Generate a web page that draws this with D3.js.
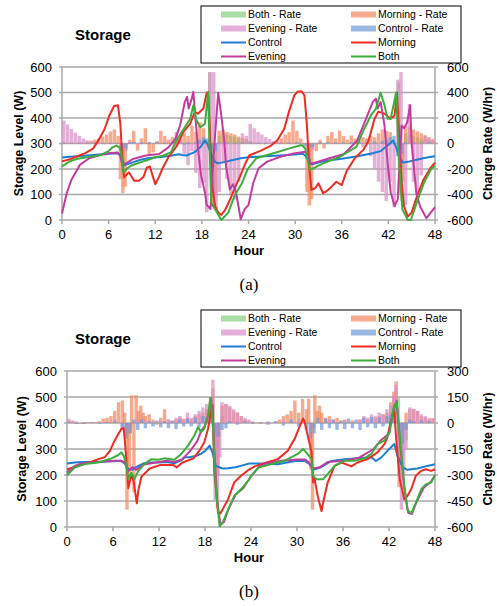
<!DOCTYPE html>
<html>
<head>
<meta charset="utf-8">
<script src="https://cdn.jsdelivr.net/npm/d3@7"></script>
<style>
  body { margin: 0; background: #fff; }
  svg { display: block; font-family: "Liberation Sans", Arial, sans-serif; }
</style>
</head>
<body>
<svg id="chart" width="497" height="606"></svg>
<script>
// ---- data: panel (a) ----
const hourTicks = [0, 6, 12, 18, 24, 30, 36, 42, 48];
const levelTicks = [0, 100, 200, 300, 400, 500, 600];
const rateTicksA = [-600, -400, -200, 0, 200, 400, 600];
const rateTicksB = [-600, -450, -300, -150, 0, 150, 300];

const controlA = [[0,245],[1,248],[2,250],[4,255],[6,260],[7,262],[7.5,258],[7.8,235],[8,215],[9,225],[10,235],[11,242],[12,245],[13,248],[14,252],[15,258],[15.5,255],[16,253],[17,265],[17.8,285],[18.4,312],[18.7,300],[19.2,255],[19.7,228],[20.1,222],[21,228],[22,235],[23,242],[24,246],[26,250],[28,253],[30,257],[31,260],[31.4,250],[31.8,225],[32.2,218],[33,225],[34,232],[36,240],[38,250],[40,262],[41,270],[41.6,285],[42.2,300],[42.6,312],[43,285],[43.4,245],[43.9,225],[44.5,228],[45.5,235],[46.5,242],[47.5,248],[48,250]];
const morningA = [[0,230],[1,238],[2,250],[3,262],[4,280],[4.8,318],[5.5,358],[6.1,410],[6.7,447],[7.2,450],[7.5,380],[7.8,220],[8,167],[8.6,187],[9.3,154],[9.9,154],[10.5,170],[10.9,205],[11.3,210],[11.7,170],[12,140],[12.5,170],[12.9,200],[13.7,246],[14.8,292],[15.6,345],[16.5,378],[17.1,424],[17.5,417],[18.2,437],[18.6,496],[18.8,502],[19.1,300],[19.4,120],[19.7,55],[20.1,29],[20.5,20],[21,40],[21.6,78],[22.3,130],[22.9,170],[23.5,215],[24.1,253],[25.6,272],[26.9,292],[27.7,312],[28.6,358],[29.2,424],[29.9,489],[30.3,503],[30.8,505],[31.2,489],[31.5,380],[31.8,213],[32.1,118],[32.6,125],[33,144],[33.6,105],[34,112],[34.5,125],[35.3,150],[36,137],[36.6,190],[37.7,243],[38.8,276],[39.4,307],[39.8,350],[40.2,395],[40.7,425],[41.5,417],[42.3,397],[42.8,410],[43.1,500],[43.4,330],[43.7,150],[44,55],[44.5,13],[45,30],[45.6,86],[46.5,157],[47.4,203],[48,225]];
const eveningA = [[0,25],[0.6,105],[1.2,157],[2.3,216],[3.5,242],[4.9,255],[6.2,263],[7.2,265],[7.5,250],[7.8,213],[9.1,239],[10.8,253],[12.5,259],[13.7,285],[14.6,318],[15.2,371],[15.8,463],[16.1,483],[16.3,437],[16.7,476],[16.9,503],[17.5,279],[17.9,174],[18.4,108],[18.6,60],[19.1,43],[19.5,250],[20.1,499],[20.5,410],[20.9,305],[21.1,213],[21.6,120],[22,140],[22.4,108],[23,3],[23.5,42],[24,59],[24.6,144],[25.3,203],[26.4,229],[28.1,248],[29.8,261],[31.3,268],[31.8,242],[32,220],[34.2,240],[36.3,259],[38,312],[39.3,410],[40,463],[40.4,476],[40.6,437],[41,463],[41.5,371],[41.9,226],[42.3,108],[42.8,55],[43.2,80],[43.7,370],[44,360],[44.4,380],[44.8,450],[45,300],[45.3,200],[45.6,105],[46.1,52],[46.9,7],[47.7,39],[48,50]];
const bothA = [[0,210],[1,230],[2,240],[3,245],[5,255],[6,270],[6.5,285],[7,292],[7.4,285],[7.6,266],[7.9,187],[8.5,205],[9,215],[10,225],[11,235],[12,246],[13,252],[14,265],[14.6,305],[15.4,345],[16.5,397],[16.9,450],[17.3,391],[17.8,364],[18.4,378],[18.8,500],[19,279],[19.2,68],[19.7,42],[20.5,0],[21.4,29],[22.2,95],[23.1,141],[23.9,200],[25,242],[27.2,262],[29.3,281],[30.8,294],[31.3,281],[31.9,196],[33.6,222],[35.8,248],[37.9,288],[38.9,358],[39.75,410],[40.4,437],[41,500],[41.5,450],[41.9,397],[42.3,397],[43,500],[43.4,213],[43.8,42],[44.5,0],[44.9,0],[45.8,82],[46.6,147],[47.5,200],[48,213]];

const bothRateA = [[7.6,-80],[18.8,560],[19.2,-500],[20,60],[20.5,80],[21,70],[21.5,60],[22,50],[22.5,40],[23,30],[23.5,20],[43.1,480],[43.5,-450],[44,80],[44.5,70],[45,60],[45.5,50],[46,40],[46.5,30],[47,20],[47.5,15]];
const morningRateA = [[0,5],[0.5,4],[1,5],[1.5,4],[2,5],[2.5,8],[3,15],[3.5,22],[4,30],[4.5,40],[5,55],[5.5,70],[6,95],[6.5,110],[7,60],[7.3,-280],[7.6,-390],[7.9,-340],[8.5,30],[9,100],[9.5,-55],[10,40],[10.5,120],[11,-90],[11.5,-70],[12,20],[12.5,100],[13,60],[13.5,30],[14,50],[14.5,90],[15,40],[15.5,85],[16,60],[16.5,140],[17,90],[17.5,168],[18,120],[19.2,-495],[19.5,-400],[20,100],[20.5,110],[21,90],[21.5,80],[22,70],[22.5,55],[23,45],[23.5,35],[24,20],[24.5,10],[25,5],[26,5],[27,10],[27.5,20],[28,40],[28.5,70],[29,90],[29.5,180],[30,100],[30.5,40],[31.3,-380],[31.6,-487],[31.9,-435],[32.5,-60],[33,30],[33.5,-40],[34,60],[34.5,89],[35,40],[35.5,102],[36,60],[36.5,30],[37,63],[37.5,40],[38,30],[38.5,50],[39,40],[39.5,60],[40,50],[40.5,80],[41,110],[41.5,100],[42,90],[43.2,-400],[43.6,-300],[44,140],[44.5,130],[45,110],[45.5,95],[46,80],[46.5,65],[47,50],[47.5,37]];
const eveningRateA = [[0,180],[0.5,150],[1,115],[1.5,85],[2,60],[2.5,40],[3,25],[3.5,15],[4,10],[4.5,8],[5,6],[5.5,5],[6,5],[6.5,5],[7.5,-110],[8,-60],[8.5,10],[9,8],[10,6],[11,8],[12,5],[13,8],[14,10],[14.5,-20],[15,25],[15.5,-80],[16,-170],[16.5,-60],[17,-230],[17.5,-350],[18,-312],[18.4,-540],[18.8,560],[19.3,560],[19.6,-508],[20,-380],[20.5,-150],[21,-280],[21.5,-400],[22,-440],[22.5,-300],[23,80],[23.5,60],[24,155],[24.5,120],[25,90],[25.5,70],[26,50],[26.5,35],[27,20],[27.5,12],[28,8],[29,5],[31.5,-110],[32,-50],[33,6],[35,8],[37,10],[38,15],[38.5,-30],[39,30],[39.5,-100],[40,-200],[40.5,-300],[41,-380],[41.5,-450],[42,-300],[42.5,-500],[43,500],[43.4,560],[44,-480],[44.5,310],[45,-300],[45.5,-400],[46,-250],[46.5,60],[47,40],[47.5,25]];
const controlRateA = [[0,8],[1,5],[2,6],[3,5],[4,8],[5,6],[6,6],[7,5],[7.5,-150],[8,-40],[8.5,10],[9,12],[10,10],[11,12],[12,10],[13,8],[14,10],[15,12],[15.5,-10],[16,10],[17,15],[17.5,30],[18,50],[18.5,40],[19,-100],[19.5,-60],[20,8],[21,10],[22,10],[23,10],[24,8],[25,6],[26,6],[27,8],[28,6],[29,8],[30,10],[31,-20],[31.5,-120],[32,-30],[33,10],[34,12],[35,10],[36,10],[37,10],[38,12],[39,10],[40,15],[41,20],[41.5,30],[42,50],[42.5,60],[43,-100],[43.5,-80],[44,10],[45,10],[46,12],[47,10]];

// ---- data: panel (b) ----
const controlB = [[0,244],[1,248],[2,250],[4,250],[6,253],[7,255],[7.5,245],[8,222],[8.5,220],[9,230],[10,245],[11,248],[12,248],[13,250],[14,245],[15,258],[15.3,268],[16,268],[17,275],[17.5,282],[18,292],[18.6,313],[19,285],[19.4,235],[20.3,225],[21,226],[22,230],[23,238],[23.8,244],[25,244],[27.5,241],[29.7,254],[31,254],[31.7,241],[32.1,220],[33.2,231],[34.5,254],[36.2,261],[37.9,264],[39.7,268],[40.3,254],[41,268],[41.8,293],[42.7,319],[43.1,274],[43.8,229],[44.4,220],[45.7,225],[47,235],[48,241]];
const morningB = [[0,222],[1.5,235],[3.2,251],[4.1,261],[4.9,268],[5.6,293],[6.2,332],[6.7,358],[7.1,378],[7.4,380],[7.7,274],[8,149],[8.4,200],[8.7,175],[9.1,91],[9.3,140],[9.7,193],[10.8,225],[12.1,238],[13.9,238],[14.3,229],[15,247],[16.5,264],[17.3,295],[17.9,325],[18.4,378],[18.8,449],[19,468],[19.2,222],[19.7,54],[20,52],[21,106],[21.8,171],[22.7,197],[23.8,222],[24.5,233],[25.8,246],[27.5,261],[28.8,293],[29.7,339],[30.4,391],[30.8,417],[31,404],[31.4,352],[31.9,287],[32.1,171],[32.3,184],[32.7,119],[33.2,61],[33.4,93],[34,171],[34.9,235],[35.8,248],[37.1,233],[37.9,248],[39.2,261],[40.5,287],[41.4,319],[41.8,345],[42.2,404],[42.5,430],[42.7,443],[42.9,352],[43.4,184],[44,106],[44.4,119],[44.9,145],[45.5,197],[46.2,216],[46.8,222],[47.5,216],[48,222]];
const eveningB = [[0,210],[1,235],[2,245],[4,250],[6,255],[7,255],[7.5,250],[8,215],[8.5,230],[9,220],[10,240],[12,250],[13,255],[14,250],[15,260],[16,290],[17,330],[17.5,370],[18,390],[18.5,440],[18.8,495],[19.2,300],[19.6,100],[20,10],[20.5,20],[21,65],[22,125],[23,150],[24,195],[25,230],[26,245],[28,255],[30,260],[31,260],[31.5,250],[32,225],[33,230],[34,250],[36,255],[38,265],[40,300],[41,335],[42,360],[42.5,440],[43,485],[43.5,300],[44,150],[44.5,55],[45,50],[45.5,90],[46.5,150],[47.5,175],[48,200]];
const bothB = [[0,199],[1,229],[2.3,242],[4.1,248],[5.8,264],[6.7,277],[7.1,287],[7.4,274],[7.7,242],[8,184],[8.4,209],[8.8,184],[9.3,216],[10.1,242],[11,261],[11.9,259],[12.7,264],[14,259],[14.9,281],[15.8,313],[16.6,352],[17.1,384],[17.5,365],[17.9,378],[18.4,429],[18.7,497],[19,417],[19.4,158],[19.9,3],[20.3,16],[21,67],[21.8,119],[22.7,145],[23.8,184],[24,197],[25,229],[26.7,242],[28.4,255],[30.1,281],[30.8,300],[31.2,287],[31.9,261],[32.1,197],[32.5,184],[33.4,184],[34,203],[34.9,235],[36.2,255],[37.5,255],[38.8,264],[39.7,281],[40.5,319],[41.4,332],[42.1,365],[42.5,443],[42.7,468],[43,481],[43.4,352],[44,158],[44.4,67],[44.9,52],[45.5,93],[46.2,145],[46.8,164],[47.5,171],[48,197]];

const bothRateB = [[7.6,-40],[8,-60],[18.7,130],[19.2,-150],[19.5,-300],[20,40],[43,150],[43.5,-250],[44,-100]];
const morningRateB = [[0,15],[0.5,10],[1,-5],[1.5,-5],[2,-5],[2.5,5],[3,5],[3.5,5],[4,10],[4.5,25],[5,30],[5.5,40],[6,70],[6.5,120],[7,130],[7.3,60],[7.6,-500],[7.9,-300],[8.2,160],[8.5,-400],[8.8,160],[9.1,70],[9.4,100],[9.7,60],[10,40],[10.5,50],[11,20],[11.5,-10],[12,30],[12.5,80],[13,20],[13.5,10],[14,20],[14.5,30],[15,25],[15.5,30],[16,20],[16.5,40],[17,50],[17.5,60],[18,80],[18.5,120],[18.8,200],[19.1,-330],[19.4,-250],[20,100],[20.5,110],[21,90],[21.5,70],[22,60],[22.5,40],[23,20],[23.5,10],[24,5],[25,-5],[26,5],[27,10],[27.5,20],[28,40],[28.5,50],[29,70],[29.5,130],[30,60],[30.5,140],[31,80],[31.3,140],[31.6,-270],[31.8,-500],[32.1,160],[32.4,70],[32.7,100],[33,60],[33.5,30],[34,40],[34.5,20],[35,30],[35.5,10],[36,20],[37,15],[38,20],[39,20],[40,30],[40.5,40],[41,50],[41.5,60],[42,120],[42.4,180],[42.7,240],[43.1,-370],[43.4,-250],[44,60],[44.5,80],[45,82],[45.5,70],[46,40],[46.5,30],[47,20],[47.5,25]];
const eveningRateB = [[0,25],[0.5,15],[1,10],[2,5],[3,5],[4,8],[5,10],[6,20],[7,-40],[7.5,-60],[8,-30],[9,20],[10,15],[11,10],[12,15],[13,20],[14,30],[14.5,40],[15,20],[15.5,60],[16,30],[16.5,50],[17,70],[17.5,90],[18,110],[18.5,150],[18.8,250],[19.1,-450],[19.4,-490],[19.7,-200],[20,120],[20.5,110],[21,100],[21.5,80],[22,60],[22.5,40],[23,30],[23.5,20],[24,10],[26,10],[28,15],[30,20],[32,-30],[34,20],[36,15],[38,20],[38.5,40],[39,30],[39.5,50],[40,40],[40.5,60],[41,50],[41.5,80],[42,100],[42.4,150],[42.7,220],[43.1,-300],[43.4,-500],[43.7,-300],[44,-150],[44.5,90],[45,80],[45.5,70],[46,50],[46.5,40],[47,30],[47.5,30]];
const controlRateB = [[0,5],[1,-5],[2,-5],[3,5],[4,-5],[5,5],[6,10],[7,-40],[7.5,-90],[8,-60],[8.5,20],[9,-40],[9.5,20],[10,-30],[10.5,10],[11,-20],[11.5,15],[12,-25],[12.5,10],[13,-30],[13.5,15],[14,-35],[14.5,20],[15,-20],[15.5,25],[16,-20],[16.5,30],[17,-25],[17.5,40],[18,30],[18.5,50],[19,-60],[19.5,-80],[20,-40],[20.5,-30],[21,10],[22,-10],[23,10],[24,-5],[25,5],[26,-10],[27,10],[28,-15],[29,20],[30,-20],[31,-40],[31.5,-90],[32,-60],[32.5,30],[33,-40],[33.5,25],[34,-30],[34.5,20],[35,-40],[35.5,15],[36,-35],[36.5,25],[37,-30],[37.5,20],[38,-40],[38.5,30],[39,-25],[39.5,35],[40,-30],[40.5,30],[41,-20],[41.5,40],[42,50],[42.5,80],[43,-80],[43.5,-120],[44,-40],[44.5,20],[45,10],[46,15],[47,10]];

const seriesNames = ["Both - Rate", "Morning - Rate", "Evening - Rate", "Control - Rate", "Control", "Morning", "Evening", "Both"];
const colors = {
  "Both - Rate": "#86cf82", "Morning - Rate": "#f4875e", "Evening - Rate": "#d88ec6", "Control - Rate": "#6f9ad6",
  "Control": "#1e7fd2", "Morning": "#ef2b22", "Evening": "#c43b9f", "Both": "#3cae3c"
};

const svg = d3.select("#chart");

function drawPanel(p) {
  const x = d3.scaleLinear().domain([0, 48]).range([p.left, p.right]);
  const yL = d3.scaleLinear().domain([0, 600]).range([p.bottom, p.top]);
  const yR = d3.scaleLinear().domain(p.rateDomain).range([p.bottom, p.top]);
  const g = svg.append("g");

  // grid
  g.selectAll(".grid").data(levelTicks).enter().append("line")
    .attr("x1", p.left - 3).attr("x2", p.right + 3)
    .attr("y1", d => yL(d)).attr("y2", d => yL(d))
    .attr("stroke", "#a9a9a9").attr("stroke-width", 1.5);
  g.append("line").attr("x1", p.left).attr("x2", p.left).attr("y1", p.top).attr("y2", p.bottom)
    .attr("stroke", "#a9a9a9").attr("stroke-width", 1.5);
  g.append("line").attr("x1", p.right).attr("x2", p.right).attr("y1", p.top).attr("y2", p.bottom)
    .attr("stroke", "#a9a9a9").attr("stroke-width", 1.5);
  g.selectAll(".xtick").data(hourTicks).enter().append("line")
    .attr("x1", d => x(d)).attr("x2", d => x(d))
    .attr("y1", p.bottom).attr("y2", p.bottom + 4)
    .attr("stroke", "#a9a9a9").attr("stroke-width", 1.5);

  // rate bars
  const bw = x(0.45) - x(0);
  const barSets = [["Both - Rate", p.bothRate], ["Morning - Rate", p.morningRate], ["Evening - Rate", p.eveningRate], ["Control - Rate", p.controlRate]];
  barSets.forEach(([name, data]) => {
    g.append("g").selectAll("rect").data(data).enter().append("rect")
      .attr("x", d => x(d[0]))
      .attr("width", bw)
      .attr("y", d => Math.min(yR(d[1]), yR(0)))
      .attr("height", d => Math.abs(yR(d[1]) - yR(0)))
      .attr("fill", colors[name]).attr("fill-opacity", 0.7);
  });

  // level lines
  const line = d3.line().x(d => x(d[0])).y(d => yL(d[1]));
  [["Control", p.control], ["Morning", p.morning], ["Evening", p.evening], ["Both", p.both]].forEach(([name, data]) => {
    g.append("path").datum(data).attr("d", line)
      .attr("fill", "none").attr("stroke", colors[name]).attr("stroke-width", 2)
      .attr("stroke-linejoin", "round");
  });

  // tick labels
  g.selectAll(".yl").data(levelTicks).enter().append("text")
    .attr("x", p.left - 10).attr("y", d => yL(d)).attr("dy", "0.36em")
    .attr("text-anchor", "end").attr("font-size", 13).text(d => d);
  g.selectAll(".yr").data(p.rateTicks).enter().append("text")
    .attr("x", p.right + 12).attr("y", d => yR(d)).attr("dy", "0.36em")
    .attr("text-anchor", "start").attr("font-size", 13).text(d => d);
  g.selectAll(".xl").data(hourTicks).enter().append("text")
    .attr("x", d => x(d)).attr("y", p.bottom + 19)
    .attr("text-anchor", "middle").attr("font-size", 13).text(d => d);

  // titles
  g.append("text").attr("x", 249).attr("y", p.bottom + 35).attr("text-anchor", "middle")
    .attr("font-size", 13).attr("font-weight", "bold").text("Hour");
  g.append("text").attr("transform", `translate(${p.leftTitleX},${(p.top + p.bottom) / 2}) rotate(-90)`)
    .attr("text-anchor", "middle").attr("font-size", 12.5).attr("font-weight", "bold").text("Storage Level (W)");
  g.append("text").attr("transform", `translate(492,${(p.top + p.bottom) / 2}) rotate(-90)`)
    .attr("text-anchor", "middle").attr("font-size", 12.5).attr("font-weight", "bold").text("Charge Rate (W/hr)");
  g.append("text").attr("x", 75).attr("y", p.legendTop + 34)
    .attr("font-size", 15).attr("font-weight", "bold").text("Storage");
  g.append("text").attr("x", 249).attr("y", p.captionY).attr("text-anchor", "middle")
    .attr("font-family", "'Liberation Serif', 'Times New Roman', serif").attr("font-size", 17).text(p.caption);

  // legend
  const lg = g.append("g");
  lg.append("rect").attr("x", 201).attr("y", p.legendTop).attr("width", 260).attr("height", 57)
    .attr("fill", "#fff").attr("stroke", "#000").attr("stroke-width", 1);
  seriesNames.forEach((name, i) => {
    const col = i % 2, row = Math.floor(i / 2);
    const sx = col === 0 ? 221 : 351;
    const cy = p.legendTop + 8.5 + row * 14;
    if (name.includes("Rate")) {
      lg.append("rect").attr("x", sx).attr("y", cy - 3).attr("width", 25).attr("height", 6)
        .attr("fill", colors[name]).attr("fill-opacity", 0.7);
    } else {
      lg.append("line").attr("x1", sx).attr("x2", sx + 25).attr("y1", cy).attr("y2", cy)
        .attr("stroke", colors[name]).attr("stroke-width", 2);
    }
    lg.append("text").attr("x", sx + 27).attr("y", cy).attr("dy", "0.36em")
      .attr("font-size", 10.5).text(name);
  });
}

drawPanel({
  left: 62, right: 435, top: 67, bottom: 220, rateDomain: [-600, 600], rateTicks: rateTicksA,
  legendTop: 6, leftTitleX: 23, captionY: 290, caption: "(a)",
  control: controlA, morning: morningA, evening: eveningA, both: bothA,
  bothRate: bothRateA, morningRate: morningRateA, eveningRate: eveningRateA, controlRate: controlRateA
});
drawPanel({
  left: 67, right: 435, top: 371, bottom: 527, rateDomain: [-600, 300], rateTicks: rateTicksB,
  legendTop: 310, leftTitleX: 26, captionY: 597, caption: "(b)",
  control: controlB, morning: morningB, evening: eveningB, both: bothB,
  bothRate: bothRateB, morningRate: morningRateB, eveningRate: eveningRateB, controlRate: controlRateB
});
</script>
</body>
</html>
